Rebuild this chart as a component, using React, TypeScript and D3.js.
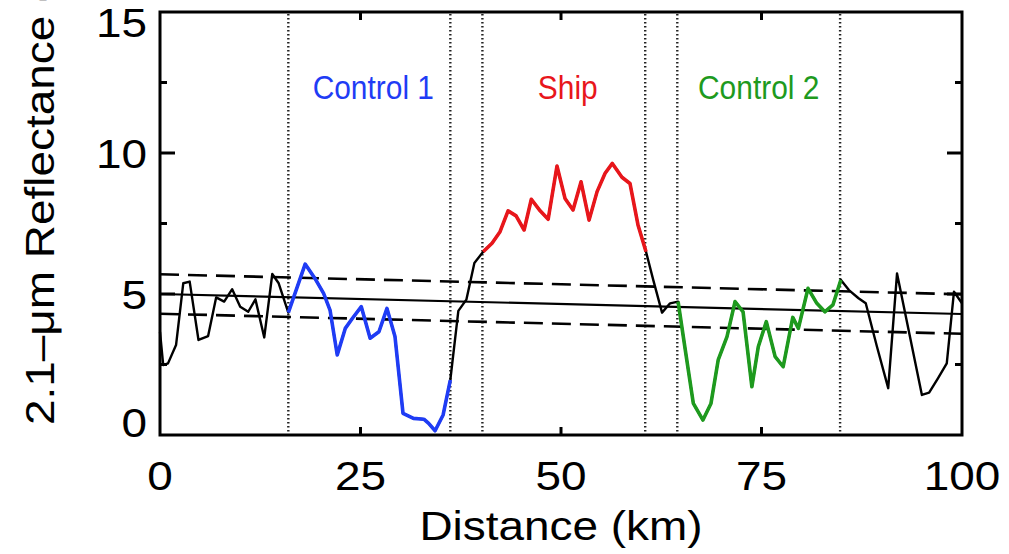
import React, { useEffect, useRef } from "react";
import * as d3 from "d3";

// reflectance profile along the transect (km, %)
const distance = [
  0, 0.4, 1.0, 2.0, 2.9, 3.7, 4.8, 6.0, 7.0, 8.0, 9.0, 10.0, 11.0, 11.9, 13.0, 14.0, 14.8, 16.0,
  18.1, 19.3, 20.4, 21.2, 22.1, 23.1, 24.0, 25.1, 26.2, 27.3, 28.3, 29.3, 30.3, 31.6, 32.9, 33.5, 34.3, 35.3, 36.2,
  37.2, 38.2, 39.2,
  40.3, 41.4, 42.4, 43.4, 44.4, 45.4, 46.3, 47.4, 48.4, 49.5, 50.5, 51.5, 52.5, 53.5, 54.5, 55.5, 56.4, 57.6, 58.6, 59.6, 60.6,
  61.5, 62.6, 63.6,
  64.6, 65.5, 66.5, 67.7, 68.7, 69.6, 70.7, 71.7, 72.7, 73.8, 74.6, 75.6, 76.7, 77.7, 78.9, 79.6, 80.8, 81.9, 82.9, 83.9, 84.9,
  85.9, 87.1, 88.0, 89.4, 90.8, 91.9, 95.0, 95.9, 97.0, 98.1, 99.0, 100,
];
const reflectance = [
  3.66, 2.48, 2.54, 3.19, 5.38, 5.44, 3.37, 3.51, 4.88, 4.73, 5.17, 4.55, 4.37, 4.81, 3.46, 5.71, 5.38, 4.34,
  6.06, 5.56, 5.02, 4.43, 2.84, 3.78, 4.14, 4.55, 3.43, 3.66, 4.49, 3.49, 0.77, 0.59, 0.56, 0.41, 0.15, 0.71, 1.95,
  4.4, 4.8, 6.1,
  6.5, 6.8, 7.21, 7.95, 7.77, 7.27, 8.36, 7.95, 7.65, 9.54, 8.39, 7.98, 8.98, 7.62, 8.63, 9.28, 9.63, 9.14, 8.92, 7.45, 6.5,
  5.5, 4.34, 4.67,
  4.73, 3.01, 1.12, 0.53, 1.12, 2.66, 3.49, 4.73, 4.37, 1.71, 3.13, 4.02, 2.78, 2.42, 4.17, 3.78, 5.2, 4.67, 4.37, 4.61, 5.5,
  5.14, 4.85, 4.67, 3.13, 1.66, 5.73, 1.42, 1.5, 2.01, 2.54, 5.08, 4.67,
];

// regions: label, start km, end km, colour
const regionNames = ["Control 1", "Ship", "Control 2"];
const regionStart = [16, 40.2, 64.5];
const regionEnd = [36.2, 60.5, 84.8];
const regionColors = ["#1f3cf5", "#e8161b", "#1e9a1e"];

// linear fit of the background and its spread
const fitIntercept = 5.0;
const fitSlope = -0.0071;
const fitSpread = 0.7;

const xTicks = [0, 25, 50, 75, 100];
const yTicks = [0, 5, 10, 15];
const yMinorTicks = [2.5, 7.5, 12.5];

const App = () => {
  const ref = useRef<SVGSVGElement>(null);

  useEffect(() => {
    const width = 1009;
    const height = 554;
    const margin = { top: 12, left: 160, bottom: 119, right: 47 };
    const iwidth = width - margin.left - margin.right;
    const iheight = height - margin.top - margin.bottom;
    const font = "'Liberation Sans', Arial, Helvetica, sans-serif";
    const fs = 41;
    const stretch = 1.12; // the original glyphs run wider than Liberation Sans

    const svg = d3.select(ref.current);
    svg.selectAll("*").remove();
    svg.attr("width", width).attr("height", height);

    const g = svg
      .append("g")
      .attr("transform", `translate(${margin.left},${margin.top})`);

    const x = d3.scaleLinear().domain([0, 100]).range([0, iwidth]);
    const y = d3.scaleLinear().domain([0, 15]).range([iheight, 0]);

    const pts = distance.map((d, i) => ({ d, r: reflectance[i] }));
    const line = d3
      .line<{ d: number; r: number }>()
      .x((p) => x(p.d))
      .y((p) => y(p.r));

    // region boundaries
    const bounds = [...regionStart, ...regionEnd];
    g.selectAll(".bound")
      .data(bounds)
      .enter()
      .append("line")
      .attr("x1", (d) => x(d))
      .attr("x2", (d) => x(d))
      .attr("y1", 2)
      .attr("y2", iheight)
      .attr("stroke", "#222")
      .attr("stroke-width", 2.4)
      .attr("stroke-dasharray", "1.6,2.4");

    // fit lines
    const fit = (off: number) => [0, 100].map((d) => ({ d, r: fitIntercept + fitSlope * d + off }));
    [-fitSpread, fitSpread].forEach((off) => {
      g.append("path")
        .attr("d", line(fit(off)))
        .attr("fill", "none")
        .attr("stroke", "#000")
        .attr("stroke-width", 2.6)
        .attr("stroke-dasharray", "19,9");
    });
    g.append("path")
      .attr("d", line(fit(0)))
      .attr("fill", "none")
      .attr("stroke", "#000")
      .attr("stroke-width", 2.2);

    // whole profile in black
    g.append("path")
      .attr("d", line(pts))
      .attr("fill", "none")
      .attr("stroke", "#000")
      .attr("stroke-width", 2.4)
      .attr("stroke-linejoin", "round");

    // coloured regions
    regionNames.forEach((name, i) => {
      const sub = pts.filter((p) => p.d >= regionStart[i] - 0.3 && p.d <= regionEnd[i] + 0.3);
      g.append("path")
        .attr("d", line(sub))
        .attr("fill", "none")
        .attr("stroke", regionColors[i])
        .attr("stroke-width", 3.6)
        .attr("stroke-linejoin", "round");
      const mid = x((regionStart[i] + regionEnd[i]) / 2) + (i === 2 ? 0 : 4);
      g.append("text")
        .attr("transform", `translate(${mid},${y(11.9)}) scale(0.88,1)`)
        .attr("text-anchor", "middle")
        .attr("font-family", font)
        .attr("font-size", 34)
        .attr("fill", regionColors[i])
        .text(name);
    });

    // frame
    g.append("rect")
      .attr("width", iwidth)
      .attr("height", iheight)
      .attr("fill", "none")
      .attr("stroke", "#000")
      .attr("stroke-width", 3);

    // ticks (inward, all four sides)
    xTicks.slice(1, -1).forEach((t) => {
      g.append("line").attr("x1", x(t)).attr("x2", x(t)).attr("y1", iheight).attr("y2", iheight - 8).attr("stroke", "#000").attr("stroke-width", 3);
      g.append("line").attr("x1", x(t)).attr("x2", x(t)).attr("y1", 0).attr("y2", 8).attr("stroke", "#000").attr("stroke-width", 3);
    });
    yTicks.slice(1, -1).forEach((t) => {
      g.append("line").attr("x1", 0).attr("x2", 15).attr("y1", y(t)).attr("y2", y(t)).attr("stroke", "#000").attr("stroke-width", 3);
      g.append("line").attr("x1", iwidth).attr("x2", iwidth - 15).attr("y1", y(t)).attr("y2", y(t)).attr("stroke", "#000").attr("stroke-width", 3);
    });
    yMinorTicks.forEach((t) => {
      g.append("line").attr("x1", 0).attr("x2", 7).attr("y1", y(t)).attr("y2", y(t)).attr("stroke", "#000").attr("stroke-width", 3);
      g.append("line").attr("x1", iwidth).attr("x2", iwidth - 7).attr("y1", y(t)).attr("y2", y(t)).attr("stroke", "#000").attr("stroke-width", 3);
    });

    // tick labels (end labels are pulled inside the box, as in the original)
    g.selectAll(".xl")
      .data(xTicks)
      .enter()
      .append("text")
      .attr("transform", (d) => `translate(${x(d)},${iheight + 55}) scale(${stretch},1)`)
      .attr("text-anchor", "middle")
      .attr("font-family", font)
      .attr("font-size", fs)
      .text((d) => d);
    const yShift = (d: number) => (d === 0 ? 2 : d === 15 ? 25 : 15);
    g.selectAll(".yl")
      .data(yTicks)
      .enter()
      .append("text")
      .attr("transform", (d) => `translate(-13,${y(d) + yShift(d)}) scale(${stretch},1)`)
      .attr("text-anchor", "end")
      .attr("font-family", font)
      .attr("font-size", fs)
      .text((d) => d);

    // axis titles
    g.append("text")
      .attr("transform", `translate(${x(50)},${iheight + 105}) scale(${stretch},1)`)
      .attr("text-anchor", "middle")
      .attr("font-family", font)
      .attr("font-size", fs)
      .text("Distance (km)");
    svg
      .append("text")
      .attr("transform", `translate(54,425) rotate(-90) scale(${stretch},1)`)
      .attr("text-anchor", "start")
      .attr("font-family", font)
      .attr("font-size", fs)
      .text("2.1\u2013\u03bcm Reflectance (%)");
  }, []);

  return (
    <div id="chartArea">
      <svg ref={ref} style={{ position: "absolute", left: 0, top: 0, background: "#fff" }}></svg>
    </div>
  );
};

export default App;
